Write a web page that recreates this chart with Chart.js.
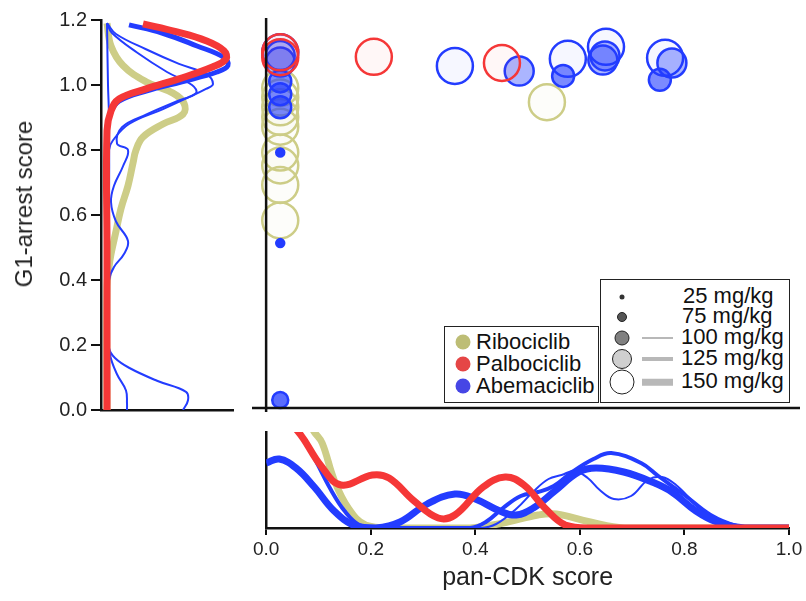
<!DOCTYPE html>
<html>
<head>
<meta charset="utf-8">
<script src="https://cdn.jsdelivr.net/npm/chart.js@4.4.0/dist/chart.umd.min.js"></script>
<style>
  html, body { margin: 0; padding: 0; background: #fff; }
  body { width: 806px; height: 601px; position: relative; overflow: hidden; font-family: "Liberation Sans", Arial, sans-serif; color: #111; }
  canvas { position: absolute; }
  #ylabel { position: absolute; left: 24px; top: 204px; transform: translate(-50%, -50%) rotate(-90deg); font-size: 24px; white-space: nowrap; color: #222; }
  .box { position: absolute; border: 1.5px solid #222; background: #fff; box-sizing: border-box; }
  .txt { position: absolute; font-size: 22px; line-height: 22px; white-space: nowrap; transform: translateY(-50%); color: #111; }
  .dot { position: absolute; border-radius: 50%; box-sizing: border-box; transform: translate(-50%, -50%); }
  .bar { position: absolute; background: #b8b8b8; transform: translateY(-50%); }
</style>
</head>
<body>
<canvas id="left" width="250" height="430" style="left:0;top:0"></canvas>
<canvas id="main" width="556" height="420" style="left:250px;top:0"></canvas>
<canvas id="bottom" width="556" height="181" style="left:250px;top:420px"></canvas>
<div id="ylabel">G1-arrest score</div>

<div class="box" style="left:444px;top:326px;width:155px;height:77px"></div>
<div class="dot" style="left:463px;top:342px;width:15px;height:15px;background:rgba(185,185,110,0.95)"></div>
<div class="txt" style="left:476px;top:342px">Ribociclib</div>
<div class="dot" style="left:463px;top:364px;width:15px;height:15px;background:rgba(228,60,60,0.95)"></div>
<div class="txt" style="left:476px;top:364px">Palbociclib</div>
<div class="dot" style="left:463px;top:386px;width:15px;height:15px;background:rgba(60,60,228,0.95)"></div>
<div class="txt" style="left:476px;top:386px">Abemaciclib</div>

<div class="box" style="left:600px;top:279px;width:190px;height:124px"></div>
<div class="dot" style="left:622px;top:297px;width:5px;height:5px;background:#333"></div>
<div class="txt" style="left:683px;top:296px">25 mg/kg</div>
<div class="dot" style="left:622px;top:317px;width:10px;height:10px;background:#555;border:1.5px solid #222"></div>
<div class="txt" style="left:682px;top:316px">75 mg/kg</div>
<div class="dot" style="left:622px;top:338px;width:15px;height:15px;background:#808080;border:1.5px solid #222"></div>
<div class="bar" style="left:642px;top:338px;width:31px;height:2px"></div>
<div class="txt" style="left:681px;top:337px">100 mg/kg</div>
<div class="dot" style="left:622px;top:359px;width:20px;height:20px;background:#cfcfcf;border:1.5px solid #222"></div>
<div class="bar" style="left:642px;top:359px;width:31px;height:4px"></div>
<div class="txt" style="left:681px;top:358px">125 mg/kg</div>
<div class="dot" style="left:622px;top:382px;width:25px;height:25px;background:#fff;border:1.5px solid #222"></div>
<div class="bar" style="left:642px;top:382px;width:31px;height:6.5px"></div>
<div class="txt" style="left:681px;top:381px">150 mg/kg</div>

<script>
// Axis ticks
const g1Ticks = [0, 0.2, 0.4, 0.6, 0.8, 1.0, 1.2];
const panTicks = [0, 0.2, 0.4, 0.6, 0.8, 1.0];

// Scatter points: [pan-CDK score, G1-arrest score, dose mg/kg]
const riboPoints = [
  [0.537, 0.946, 150], [0.027, 0.99, 150], [0.027, 0.96, 150], [0.027, 0.93, 150],
  [0.027, 0.90, 150], [0.027, 0.87, 150], [0.027, 0.79, 150], [0.027, 0.75, 150],
  [0.027, 0.69, 150], [0.027, 0.58, 150]
];
const palboPoints = [
  [0.206, 1.086, 150], [0.451, 1.067, 150], [0.027, 1.10, 150], [0.027, 1.085, 150]
];
const abemaPoints = [
  [0.361, 1.058, 150], [0.577, 1.08, 150], [0.65, 1.117, 150], [0.763, 1.083, 150], [0.027, 1.10, 150],
  [0.484, 1.042, 125], [0.648, 1.089, 125], [0.644, 1.076, 125], [0.776, 1.067, 125], [0.027, 1.09, 125], [0.027, 1.07, 125],
  [0.568, 1.027, 100], [0.753, 1.015, 100], [0.027, 1.01, 100], [0.027, 0.97, 100], [0.027, 0.93, 100],
  [0.027, 0.025, 75],
  [0.027, 0.79, 25], [0.027, 0.51, 25]
];

// Left marginal densities: [density, G1-arrest score]
const leftRibo150 = [[0, 0], [0, 0.38], [0.02, 0.44], [0.04, 0.48], [0.09, 0.55], [0.14, 0.62], [0.21, 0.69], [0.26, 0.76], [0.29, 0.8], [0.36, 0.84], [0.56, 0.88], [0.76, 0.91], [0.77, 0.944], [0.66, 0.975], [0.39, 1.01], [0.16, 1.06], [0.04, 1.12], [0, 1.19]];
const leftPalbo150 = [[0, 0], [0, 0.5], [0, 0.86], [0.04, 0.92], [0.12, 0.957], [0.39, 0.988], [0.72, 1.019], [1.06, 1.056], [1.19, 1.08], [1.17, 1.105], [0.99, 1.136], [0.69, 1.164], [0.36, 1.188]];
const leftAbema150 = [[0, 0], [0, 0.86], [0.03, 0.91], [0.12, 0.95], [0.4, 0.982], [0.75, 1.01], [1.1, 1.04], [1.21, 1.06], [1.17, 1.085], [0.9, 1.12], [0.55, 1.16], [0.22, 1.185]];
const leftAbemaA = [[0, 0], [0, 0.6], [0.02, 0.8], [0.06, 0.83], [0.22, 0.88], [0.56, 0.926], [0.82, 0.963], [0.99, 0.988], [1.06, 1.003], [0.99, 1.034], [0.72, 1.065], [0.39, 1.11], [0.09, 1.157], [0, 1.19]];
const leftAbemaB = [[0, 0], [0, 0.3], [0.02, 0.4], [0.07, 0.44], [0.17, 0.48], [0.21, 0.52], [0.09, 0.58], [0.04, 0.64], [0.07, 0.69], [0.16, 0.75], [0.21, 0.8], [0.1, 0.82], [0.15, 0.87], [0.4, 0.91], [0.7, 0.95], [0.89, 0.975], [0.85, 1.0], [0.6, 1.04], [0.3, 1.1], [0.05, 1.16], [0, 1.19]];
const leftAbemaC = [[0, 1.19], [0.01, 1.0], [0.02, 0.9], [0.02, 0.6], [0.01, 0.3], [0.02, 0.19], [0.08, 0.16], [0.22, 0.13], [0.5, 0.09], [0.79, 0.056], [0.81, 0.03], [0.76, 0.0]];
const leftAbemaD = [[0, 0.4], [0.01, 0.25], [0.03, 0.17], [0.1, 0.11], [0.19, 0.06], [0.2, 0.02], [0.2, 0.0]];

// Bottom marginal densities: [pan-CDK score, density]
const botRibo150 = [[0, 1.4], [0.05, 1.3], [0.092, 0.96], [0.107, 0.85], [0.13, 0.48], [0.157, 0.2], [0.19, 0.03], [0.24, 0], [0.39, 0], [0.453, 0.05], [0.52, 0.13], [0.555, 0.14], [0.62, 0.06], [0.685, 0], [0.8, 0], [1.0, 0]];
const botPalbo150 = [[0, 1.05], [0.03, 1.08], [0.06, 0.97], [0.105, 0.62], [0.143, 0.43], [0.203, 0.53], [0.235, 0.5], [0.283, 0.27], [0.329, 0.1], [0.361, 0.13], [0.415, 0.41], [0.457, 0.51], [0.493, 0.43], [0.533, 0.2], [0.572, 0.03], [0.62, 0], [0.8, 0], [1.0, 0]];
const botAbema150 = [[0, 0.65], [0.025, 0.69], [0.057, 0.6], [0.092, 0.41], [0.13, 0.17], [0.17, 0.02], [0.21, 0], [0.256, 0.06], [0.308, 0.24], [0.361, 0.34], [0.4, 0.29], [0.447, 0.17], [0.478, 0.13], [0.511, 0.2], [0.552, 0.37], [0.598, 0.56], [0.631, 0.6], [0.684, 0.56], [0.738, 0.46], [0.776, 0.36], [0.822, 0.17], [0.862, 0.06], [0.915, 0], [1.0, 0]];
const botAbema125 = [[0, 1.5], [0.04, 1.2], [0.071, 0.89], [0.092, 0.7], [0.124, 0.38], [0.15, 0.17], [0.178, 0.03], [0.21, 0], [0.39, 0], [0.42, 0.06], [0.453, 0.2], [0.487, 0.32], [0.52, 0.36], [0.55, 0.42], [0.585, 0.56], [0.626, 0.69], [0.66, 0.75], [0.717, 0.65], [0.75, 0.52], [0.8, 0.33], [0.85, 0.13], [0.9, 0.02], [0.94, 0], [1.0, 0]];
const botAbema100 = [[0, 1.5], [0.04, 1.2], [0.071, 0.89], [0.092, 0.7], [0.124, 0.38], [0.15, 0.17], [0.178, 0.03], [0.21, 0], [0.41, 0], [0.44, 0.04], [0.48, 0.2], [0.51, 0.36], [0.54, 0.49], [0.565, 0.53], [0.59, 0.57], [0.615, 0.5], [0.638, 0.38], [0.665, 0.29], [0.698, 0.32], [0.73, 0.48], [0.757, 0.51], [0.784, 0.43], [0.83, 0.2], [0.88, 0.04], [0.93, 0], [1.0, 0]];

// Styles
const FONT = '"Liberation Sans", Arial, sans-serif';
const OLIVE = [205, 205, 135];
const RED = [245, 55, 55];
const BLUE = [35, 60, 255];
const rgba = (c, a) => `rgba(${c[0]},${c[1]},${c[2]},${a})`;
const DOSE_RADIUS = { 25: 4, 75: 8, 100: 11, 125: 14.5, 150: 18 };
const DOSE_ALPHA = { 25: 1, 75: 0.75, 100: 0.6, 125: 0.38, 150: 0.04 };

const toXY = (arr) => arr.map(([x, y]) => ({ x, y }));
const toPts = (arr) => arr.map(([x, y, dose]) => ({ x, y, dose }));

const curve = (arr, color, width) => ({
  data: toXY(arr), showLine: true, borderColor: rgba(color, 1), borderWidth: width,
  pointRadius: 0, pointHoverRadius: 0, tension: 0.4, fill: false,
  borderCapStyle: 'butt', borderJoinStyle: 'round'
});

const bubbles = (arr, color) => ({
  data: toPts(arr), clip: false,
  pointRadius: (ctx) => DOSE_RADIUS[ctx.raw.dose],
  pointHoverRadius: (ctx) => DOSE_RADIUS[ctx.raw.dose],
  pointBackgroundColor: (ctx) => rgba(color, DOSE_ALPHA[ctx.raw.dose]),
  pointBorderColor: rgba(color, 1),
  pointBorderWidth: 2.5
});

Chart.defaults.font.family = FONT;
Chart.defaults.color = '#222';

const base = {
  responsive: false,
  animation: false,
  events: [],
  plugins: { legend: { display: false }, tooltip: { enabled: false } }
};

// Left marginal
new Chart(document.getElementById('left'), {
  type: 'scatter',
  data: {
    datasets: [
      curve(leftPalbo150, RED, 7),
      curve(leftAbema150, BLUE, 5),
      curve(leftAbemaA, BLUE, 2),
      curve(leftAbemaB, BLUE, 2),
      curve(leftAbemaC, BLUE, 2),
      curve(leftAbemaD, BLUE, 2),
      curve(leftRibo150, OLIVE, 7)
    ]
  },
  options: {
    ...base,
    layout: { autoPadding: false, padding: { top: 20, right: 17 } },
    scales: {
      x: {
        type: 'linear', min: -0.06, max: 1.26,
        afterFit: (s) => { s.height = 20; },
        ticks: { display: false },
        grid: { display: false },
        border: { display: true, color: '#111', width: 2.5 }
      },
      y: {
        min: 0, max: 1.2,
        afterFit: (s) => { s.width = 101; },
        afterBuildTicks: (s) => { s.ticks = g1Ticks.map((v) => ({ value: v })); },
        ticks: { callback: (v) => Number(v).toFixed(1), font: { size: 20 }, color: '#222', padding: 4 },
        grid: { drawOnChartArea: false, tickLength: 10, color: '#111', lineWidth: 2 },
        border: { color: '#111', width: 2.5 }
      }
    }
  }
});

// Main scatter, axes drawn at zero
const zeroAxes = {
  id: 'zeroAxes',
  afterDatasetsDraw(chart) {
    const { ctx, chartArea, scales } = chart;
    const x0 = scales.x.getPixelForValue(0);
    const y0 = scales.y.getPixelForValue(0);
    ctx.save();
    ctx.strokeStyle = '#111';
    ctx.lineWidth = 2.5;
    ctx.beginPath();
    ctx.moveTo(x0, chartArea.top - 2);
    ctx.lineTo(x0, chartArea.bottom + 4);
    ctx.moveTo(chartArea.left, y0);
    ctx.lineTo(chartArea.right, y0);
    ctx.stroke();
    ctx.restore();
  }
};

new Chart(document.getElementById('main'), {
  type: 'scatter',
  data: {
    datasets: [
      bubbles(palboPoints, RED),
      bubbles(abemaPoints, BLUE),
      bubbles(riboPoints, OLIVE)
    ]
  },
  options: {
    ...base,
    layout: { autoPadding: false, padding: { left: 2, right: 6, top: 20, bottom: 12 } },
    scales: {
      x: { display: false, min: -0.027, max: 1.021 },
      y: { display: false, min: 0, max: 1.2 }
    }
  },
  plugins: [zeroAxes]
});

// Bottom marginal
new Chart(document.getElementById('bottom'), {
  type: 'scatter',
  data: {
    datasets: [
      curve(botPalbo150, RED, 7),
      curve(botAbema150, BLUE, 7),
      curve(botAbema125, BLUE, 4),
      curve(botAbema100, BLUE, 2),
      curve(botRibo150, OLIVE, 7)
    ]
  },
  options: {
    ...base,
    layout: { autoPadding: false, padding: { top: 12, right: 17 } },
    scales: {
      x: {
        type: 'linear', min: 0, max: 1,
        afterFit: (s) => { s.height = 73; },
        afterBuildTicks: (s) => { s.ticks = panTicks.map((v) => ({ value: v })); },
        ticks: { callback: (v) => Number(v).toFixed(1), font: { size: 19 }, color: '#222', padding: 3, maxRotation: 0 },
        grid: { drawOnChartArea: false, tickLength: 7, color: '#111', lineWidth: 2 },
        border: { color: '#111', width: 2.5 },
        title: { display: true, text: 'pan-CDK score', font: { size: 25 }, color: '#222', padding: { top: 0, bottom: 8 } }
      },
      y: {
        min: 0, max: 0.96,
        afterFit: (s) => { s.width = 16; },
        ticks: { display: false },
        grid: { display: false },
        border: { display: true, color: '#111', width: 2.5 }
      }
    }
  }
});
</script>
</body>
</html>
